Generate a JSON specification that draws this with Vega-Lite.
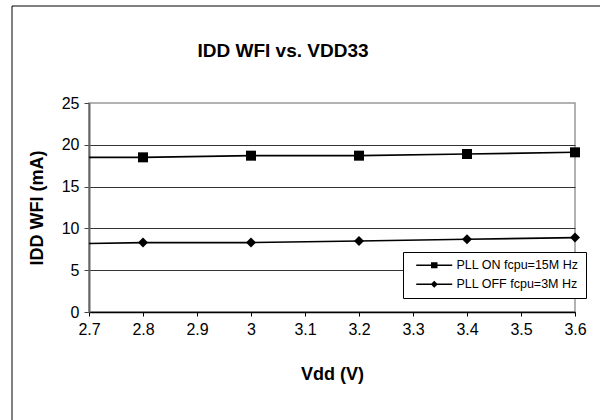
{
  "$schema": "https://vega.github.io/schema/vega-lite/v6.json",
  "width": 486,
  "height": 209,
  "autosize": {"type": "none"},
  "padding": {"left": 89, "top": 103, "right": 25, "bottom": 108},
  "background": "white",
  "title": {
    "text": "IDD WFI vs. VDD33",
    "font": "Liberation Sans",
    "fontSize": 19,
    "fontWeight": "bold",
    "color": "black",
    "anchor": "middle",
    "frame": "group",
    "dx": -49,
    "offset": 0,
    "dy": 56
  },
  "config": {
    "view": {"stroke": "#999999", "strokeWidth": 1.5}
  },
  "data": {
    "values": [
      {"series": "PLL ON fcpu=15M Hz", "vdd": 2.7, "idd": 18.5},
      {"series": "PLL ON fcpu=15M Hz", "vdd": 2.8, "idd": 18.5},
      {"series": "PLL ON fcpu=15M Hz", "vdd": 3.0, "idd": 18.7},
      {"series": "PLL ON fcpu=15M Hz", "vdd": 3.2, "idd": 18.7},
      {"series": "PLL ON fcpu=15M Hz", "vdd": 3.4, "idd": 18.9},
      {"series": "PLL ON fcpu=15M Hz", "vdd": 3.6, "idd": 19.1},
      {"series": "PLL OFF fcpu=3M Hz", "vdd": 2.7, "idd": 8.2},
      {"series": "PLL OFF fcpu=3M Hz", "vdd": 2.8, "idd": 8.3},
      {"series": "PLL OFF fcpu=3M Hz", "vdd": 3.0, "idd": 8.3},
      {"series": "PLL OFF fcpu=3M Hz", "vdd": 3.2, "idd": 8.5},
      {"series": "PLL OFF fcpu=3M Hz", "vdd": 3.4, "idd": 8.7},
      {"series": "PLL OFF fcpu=3M Hz", "vdd": 3.6, "idd": 8.9}
    ]
  },
  "encoding": {
    "x": {
      "field": "vdd",
      "type": "quantitative",
      "scale": {"domain": [2.7, 3.6], "nice": false, "zero": false},
      "axis": {
        "values": [2.7, 2.8, 2.9, 3.0, 3.1, 3.2, 3.3, 3.4, 3.5, 3.6],
        "format": "~g",
        "title": "Vdd (V)",
        "titleFont": "Liberation Sans",
        "titleFontSize": 18,
        "titleFontWeight": "bold",
        "titleColor": "black",
        "titleX": 243,
        "titleY": 62,
        "titleBaseline": "middle",
        "labelFont": "Liberation Sans",
        "labelFontSize": 16,
        "labelColor": "black",
        "labelPadding": 5,
        "labelFlush": false,
        "labelOverlap": false,
        "domainColor": "black",
        "domainWidth": 1.5,
        "tickColor": "black",
        "tickSize": 4,
        "tickWidth": 1,
        "grid": false
      }
    },
    "y": {
      "field": "idd",
      "type": "quantitative",
      "scale": {"domain": [0, 25], "nice": false},
      "axis": {
        "values": [0, 5, 10, 15, 20, 25],
        "title": "IDD WFI (mA)",
        "titleFont": "Liberation Sans",
        "titleFontSize": 18,
        "titleFontWeight": "bold",
        "titleColor": "black",
        "titleX": -52,
        "titleAngle": 270,
        "titleAlign": "center",
        "titleBaseline": "middle",
        "labelFont": "Liberation Sans",
        "labelFontSize": 16,
        "labelColor": "black",
        "labelPadding": 5,
        "domainColor": "#666666",
        "domainWidth": 2,
        "tickColor": "#444444",
        "tickSize": 5,
        "tickWidth": 1,
        "grid": true,
        "gridColor": "#333333",
        "gridWidth": 1,
        "gridOpacity": {"condition": {"test": "datum.value >= 25", "value": 0}, "value": 1}
      }
    }
  },
  "resolve": {"scale": {"shape": "independent"}, "legend": {"shape": "independent"}},
  "layer": [
    {
      "mark": {"type": "line", "color": "black", "strokeWidth": 1.6},
      "encoding": {
        "detail": {"field": "series", "type": "nominal"},
        "opacity": {
          "datum": "frame",
          "type": "nominal",
          "scale": {"range": [1]},
          "legend": {
            "orient": "none",
            "legendX": -77.5,
            "legendY": -97.5,
            "title": null,
            "padding": 700,
            "strokeColor": "black",
            "labelExpr": "''",
            "symbolOpacity": 0,
            "symbolSize": 1
          }
        },
        "strokeOpacity": {
          "datum": "frame2",
          "type": "nominal",
          "scale": {"range": [1]},
          "legend": {
            "orient": "none",
            "legendX": -76.5,
            "legendY": -96.5,
            "title": null,
            "padding": 700,
            "strokeColor": "black",
            "labelExpr": "''",
            "symbolOpacity": 0,
            "symbolSize": 1
          }
        }
      }
    },
    {
      "transform": [{"filter": "datum.vdd > 2.75"}],
      "mark": {"type": "point", "filled": true, "color": "black", "opacity": 1, "size": 100},
      "encoding": {
        "shape": {
          "field": "series",
          "type": "nominal",
          "scale": {"range": ["diamond", "square"]},
          "legend": null
        }
      }
    },
    {
      "transform": [{"filter": "datum.vdd > 2.75"}],
      "mark": {"type": "point", "filled": true, "color": "black", "opacity": 0, "size": 100},
      "encoding": {
        "shape": {
          "field": "series",
          "type": "nominal",
          "scale": {
            "domain": ["PLL ON fcpu=15M Hz", "PLL OFF fcpu=3M Hz"],
            "range": [
              "M0,-0.16H2.95V-0.6H4.25V-0.16H7.2V0.16H4.25V0.6H2.95V0.16H0Z",
              "M0,-0.16H3.04L3.6,-0.72L4.16,-0.16H7.2V0.16H4.16L3.6,0.72L3.04,0.16H0Z"
            ]
          },
          "legend": {
            "orient": "none",
            "legendX": 314,
            "legendY": 149,
            "title": null,
            "padding": 7,
            "labelFont": "Liberation Sans",
            "labelFontSize": 12.5,
            "labelColor": "black",
            "labelOffset": 34,
            "rowPadding": 5,
            "symbolSize": 100,
            "symbolFillColor": "black",
            "symbolOpacity": 1,
            "strokeColor": "black",
            "fillColor": "white"
          }
        }
      }
    }
  ]
}
